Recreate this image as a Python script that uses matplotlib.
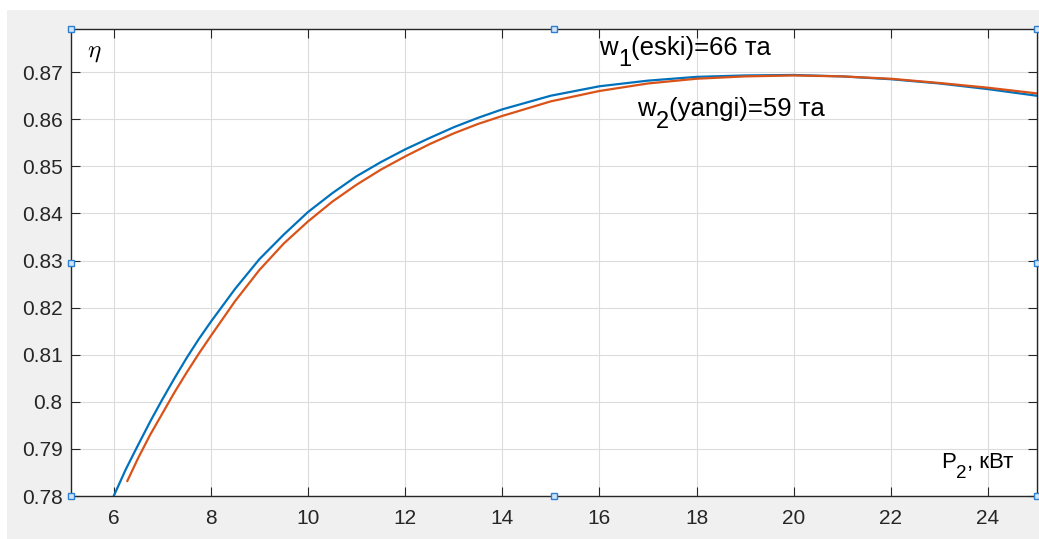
import matplotlib
matplotlib.use("Agg")
import matplotlib.pyplot as plt
from matplotlib.patches import Rectangle

plt.rcParams['font.family'] = ['Liberation Sans', 'DejaVu Sans']

# data
p2_old = [6.0, 6.25, 6.5, 6.75, 7.0, 7.25, 7.5, 7.75, 8.0, 8.5, 9.0, 9.5, 10.0, 10.5, 11.0, 11.5,
          12.0, 12.5, 13.0, 13.5, 14.0, 15.0, 16.0, 17.0, 18.0, 19.0, 20.0, 21.0, 22.0, 23.0, 24.0, 25.0]
eta_old = [0.7800, 0.7857, 0.7908, 0.7958, 0.8005, 0.8050, 0.8093, 0.8133, 0.8170, 0.8240, 0.8303,
           0.8355, 0.8403, 0.8443, 0.8479, 0.8509, 0.8536, 0.8560, 0.8583, 0.8603, 0.8621, 0.8650,
           0.8670, 0.8682, 0.8690, 0.8693, 0.8694, 0.8691, 0.8685, 0.8676, 0.8664, 0.8650]

p2_new = [6.28, 6.5, 6.75, 7.0, 7.25, 7.5, 7.75, 8.0, 8.5, 9.0, 9.5, 10.0, 10.5, 11.0, 11.5,
          12.0, 12.5, 13.0, 13.5, 14.0, 15.0, 16.0, 17.0, 18.0, 19.0, 20.0, 21.0, 22.0, 23.0, 24.0, 25.0]
eta_new = [0.7832, 0.7880, 0.7930, 0.7975, 0.8020, 0.8062, 0.8102, 0.8140, 0.8214, 0.8280, 0.8336,
           0.8383, 0.8425, 0.8461, 0.8493, 0.8521, 0.8547, 0.8570, 0.8590, 0.8607, 0.8638, 0.8660,
           0.8676, 0.8686, 0.8691, 0.8693, 0.8691, 0.8686, 0.8677, 0.8667, 0.8655]

x_ticks = [6, 8, 10, 12, 14, 16, 18, 20, 22, 24]
y_ticks = [0.78, 0.79, 0.80, 0.81, 0.82, 0.83, 0.84, 0.85, 0.86, 0.87]

blue = (0.0, 0.447, 0.741)
orange = (0.85, 0.325, 0.098)
dark = '#262626'

fig = plt.figure(figsize=(10.39, 5.39), dpi=100)
fig.patch.set_facecolor('white')
fig.patches.append(Rectangle((7 / 1039, 0), 1, 1 - 10 / 539, transform=fig.transFigure,
                             facecolor='#f0f0f0', edgecolor='none', zorder=-10))

ax = fig.add_axes([71 / 1039, 43 / 539, (1036.5 - 71) / 1039, (496 - 29.3) / 539])
ax.plot(p2_old, eta_old, color=blue, lw=1.6)
ax.plot(p2_new, eta_new, color=orange, lw=1.6)

ax.set_xlim(5.12, 25)
ax.set_ylim(0.78, 0.8791)
ax.set_xticks(x_ticks)
ax.set_yticks(y_ticks)
ax.set_xticklabels([str(t) for t in x_ticks])
ax.set_yticklabels(['%g' % t for t in y_ticks])
ax.grid(True, color='#dcdcdc', lw=0.8)
ax.tick_params(direction='in', length=6.5, width=0.8, colors=dark, labelsize=15,
               top=True, right=True)
ax.tick_params(axis='x', pad=9)
ax.tick_params(axis='y', pad=6)
for s in ax.spines.values():
    s.set_color(dark)
    s.set_linewidth(1.0)

renderer = fig.canvas.get_renderer()


def sub_text(x, y, base, sub, rest, fs, sub_fs, drop):
    # MATLAB-style subscript: base, lowered subscript, then the rest
    t1 = ax.text(x, y, base, fontsize=fs, va='baseline')
    w1 = t1.get_window_extent(renderer).width * 72 / fig.dpi
    t2 = ax.annotate(sub, (x, y), xytext=(w1, -drop), textcoords='offset points',
                     fontsize=sub_fs, va='baseline')
    w2 = t2.get_window_extent(renderer).width * 72 / fig.dpi
    ax.annotate(rest, (x, y), xytext=(w1 + w2, 0), textcoords='offset points',
                fontsize=fs, va='baseline')


sub_text(16.0, 0.8736, 'w', '1', '(eski)=66 та', 18.5, 17, 8)
sub_text(16.78, 0.8606, 'w', '2', '(yangi)=59 та', 18.5, 17, 8)
sub_text(23.04, 0.7859, 'P', '2', ', кВт', 16, 13.5, 7)
ax.text(5.45, 0.8732, r'$\eta$', fontsize=18, color='black', va='baseline', math_fontfamily='cm')

# edit-mode selection handles on the axes box
for hx, hy in [(0, 0), (0.5, 0), (1, 0), (0, 0.5), (1, 0.5), (0, 1), (0.5, 1), (1, 1)]:
    ax.plot(hx, hy, marker='s', ms=5, mfc='#cfe6fa', mec='#2f7fd0', mew=1,
            transform=ax.transAxes, clip_on=False, zorder=10)

fig.savefig('out.png', dpi=100, facecolor=fig.get_facecolor())
